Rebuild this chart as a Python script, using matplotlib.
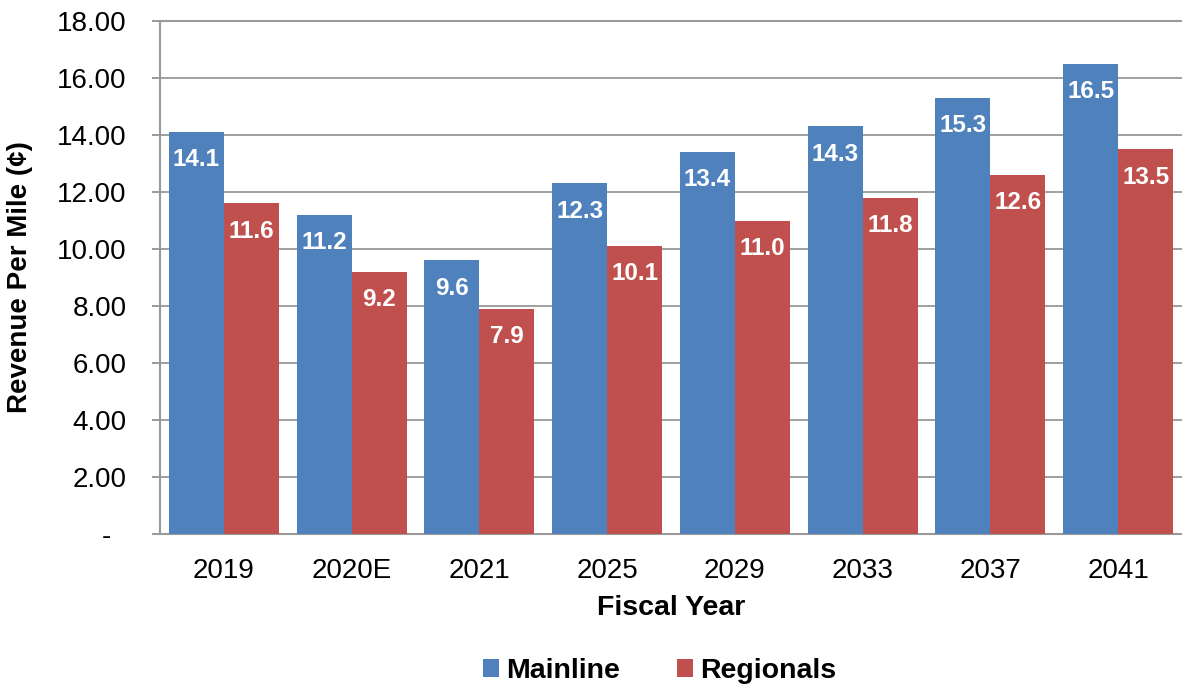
import matplotlib.pyplot as plt
import numpy as np
from matplotlib.ticker import FixedLocator

plt.rcParams['font.family'] = ['Liberation Sans', 'DejaVu Sans']

years = ['2019', '2020E', '2021', '2025', '2029', '2033', '2037', '2041']
mainline = [14.1, 11.2, 9.6, 12.3, 13.4, 14.3, 15.3, 16.5]
regionals = [11.6, 9.2, 7.9, 10.1, 11.0, 11.8, 12.6, 13.5]
yticks = [0, 2, 4, 6, 8, 10, 12, 14, 16, 18]
ytick_labels = ['-  '] + [f'{v:.2f}' for v in yticks[1:]]

blue = '#4F81BD'
red = '#C0504D'

fig = plt.figure(figsize=(11.82, 6.89), dpi=100)
ax = fig.add_axes([160/1182, 1 - 534/689, 1 - 160/1182, (534 - 21)/689])

x = np.arange(len(years))
w = 0.43
b1 = ax.bar(x - w/2, mainline, w, color=blue, label='Mainline', zorder=3)
b2 = ax.bar(x + w/2, regionals, w, color=red, label='Regionals', zorder=3)

for bars, vals in [(b1, mainline), (b2, regionals)]:
    for r, v in zip(bars, vals):
        ax.annotate(f'{v:.1f}', (r.get_x() + r.get_width()/2, v),
                    xytext=(0, -20), textcoords='offset points',
                    ha='center', va='center', color='white',
                    fontsize=17.5, fontweight='bold', zorder=4)

ax.set_xlim(-0.5, len(years) - 0.5)
ax.set_ylim(0, 18)
ax.yaxis.set_major_locator(FixedLocator(yticks))
ax.set_yticklabels(ytick_labels, fontsize=20)
ax.set_xticks(x)
ax.set_xticklabels(years, fontsize=20)
ax.tick_params(axis='x', length=0, pad=17)
ax.tick_params(axis='y', length=6, width=1.2, color='#888888', pad=18)
ax.yaxis.grid(True, color='#999999', linewidth=1.3, zorder=0)
ax.set_axisbelow(True)

for s in ['top', 'left', 'bottom']:
    ax.spines[s].set_color('#999999')
    ax.spines[s].set_linewidth(1.5)
ax.spines['right'].set_visible(False)

ax.set_ylabel('Revenue Per Mile (¢)', fontsize=20, fontweight='bold')
ax.yaxis.set_label_coords((20 - 160)/1022, 0.5)
ax.set_xlabel('Fiscal Year', fontsize=20.5, fontweight='bold')
ax.xaxis.set_label_coords(0.5, (534 - 608)/513)
ax.xaxis.label.set_va('center')
ax.yaxis.label.set_va('center')

fig.legend(handles=[b1, b2], loc='center', bbox_to_anchor=(0.558, 18/689),
           ncol=2, frameon=False, prop={'size': 20.5, 'weight': 'bold'},
           handlelength=0.55, handleheight=0.55, handletextpad=0.25,
           columnspacing=2.0)

fig.savefig('out.png', dpi=100)
